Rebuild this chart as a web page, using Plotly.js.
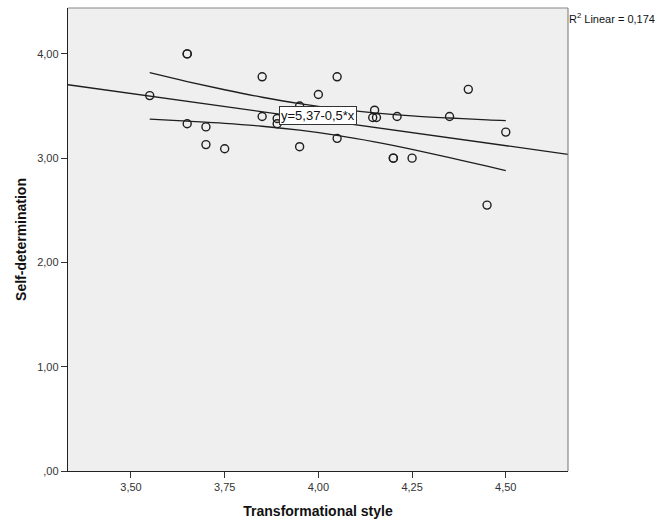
<!DOCTYPE html>
<html>
<head>
<meta charset="utf-8">
<script src="https://cdn.plot.ly/plotly-3.0.1.min.js"></script>
<style>body{margin:0;background:#fff}#chart{width:657px;height:523px}</style>
</head>
<body>
<div id="chart"></div>
<script>
// Observed points (Transformational style vs Self-determination)
var pointX = [3.55, 3.65, 3.65, 3.65, 3.70, 3.70, 3.75, 3.85, 3.85, 3.89, 3.89, 3.95, 3.95, 4.00, 4.05, 4.05, 4.15, 4.145, 4.155, 4.21, 4.20, 4.20, 4.25, 4.35, 4.40, 4.45, 4.50];
var pointY = [3.60, 4.00, 4.00, 3.33, 3.30, 3.13, 3.09, 3.78, 3.40, 3.38, 3.33, 3.50, 3.11, 3.61, 3.78, 3.19, 3.46, 3.39, 3.39, 3.40, 3.00, 3.00, 3.00, 3.40, 3.66, 2.55, 3.25];

// Fit line y = 5.37 - 0.5x across the axis range
var fitX = [3.332, 4.666];
var fitY = [3.704, 3.037];

// Confidence band
var bandX = [3.55, 3.65, 3.75, 3.85, 3.95, 4.05, 4.15, 4.25, 4.35, 4.45, 4.50];
var bandUpper = [3.820, 3.735, 3.656, 3.584, 3.522, 3.472, 3.434, 3.406, 3.385, 3.367, 3.360];
var bandLower = [3.374, 3.355, 3.334, 3.306, 3.268, 3.218, 3.156, 3.084, 3.005, 2.923, 2.881];

var xTickVals = [3.50, 3.75, 4.00, 4.25, 4.50];
var xTickText = ["3,50", "3,75", "4,00", "4,25", "4,50"];
var yTickVals = [0, 1, 2, 3, 4];
var yTickText = [",00", "1,00", "2,00", "3,00", "4,00"];

var lineColor = "#1e1e1e";
var traces = [
  {x: fitX, y: fitY, mode: "lines", line: {color: lineColor, width: 1.3}, hoverinfo: "skip"},
  {x: bandX, y: bandUpper, mode: "lines", line: {color: lineColor, width: 1.3, shape: "spline"}, hoverinfo: "skip"},
  {x: bandX, y: bandLower, mode: "lines", line: {color: lineColor, width: 1.3, shape: "spline"}, hoverinfo: "skip"},
  {x: pointX, y: pointY, mode: "markers", marker: {symbol: "circle-open", size: 8, color: "#1e1e1e", line: {width: 1.4, color: "#1e1e1e"}}}
];

var tickFont = {family: "Liberation Sans, Arial, sans-serif", size: 11, color: "#333"};
var titleFont = {family: "Liberation Sans, Arial, sans-serif", size: 14, color: "#111", weight: "bold"};

var layout = {
  width: 657, height: 523,
  margin: {l: 68, r: 89, t: 8, b: 52},
  paper_bgcolor: "#ffffff",
  plot_bgcolor: "#efefef",
  showlegend: false,
  xaxis: {
    range: [3.332, 4.666], tickvals: xTickVals, ticktext: xTickText,
    ticks: "outside", ticklen: 6, tickcolor: "#333", tickwidth: 1,
    showgrid: false, zeroline: false, showline: true, linecolor: "#222", linewidth: 1.2,
    tickfont: tickFont,
    title: {text: "Transformational style", font: titleFont, standoff: 13}
  },
  yaxis: {
    range: [0, 4.44], tickvals: yTickVals, ticktext: yTickText,
    ticks: "outside", ticklen: 6, tickcolor: "#333", tickwidth: 1,
    showgrid: false, zeroline: false, showline: true, linecolor: "#222", linewidth: 1.2,
    tickfont: tickFont,
    title: {text: "Self-determination", font: titleFont, standoff: 7}
  },
  shapes: [
    {type: "line", xref: "paper", yref: "paper", x0: 0, x1: 1, y0: 1, y1: 1, line: {color: "#888", width: 1.2}},
    {type: "line", xref: "paper", yref: "paper", x0: 1, x1: 1, y0: 0, y1: 1, line: {color: "#888", width: 1.2}}
  ],
  annotations: [
    {xref: "paper", yref: "paper", x: 1, y: 1, xanchor: "left", yanchor: "top", xshift: -1, yshift: -1,
     text: "R<sup>2</sup> Linear = 0,174", showarrow: false,
     font: {family: "Liberation Sans, Arial, sans-serif", size: 11, color: "#111"}},
    {x: 4.0, y: 3.405, xref: "x", yref: "y", text: "y=5,37-0,5*x", showarrow: false,
     bgcolor: "#ffffff", bordercolor: "#333", borderwidth: 1, borderpad: 1,
     font: {family: "Liberation Sans, Arial, sans-serif", size: 13, color: "#111"}}
  ]
};

Plotly.newPlot("chart", traces, layout, {displayModeBar: false, staticPlot: true});
</script>
</body>
</html>
